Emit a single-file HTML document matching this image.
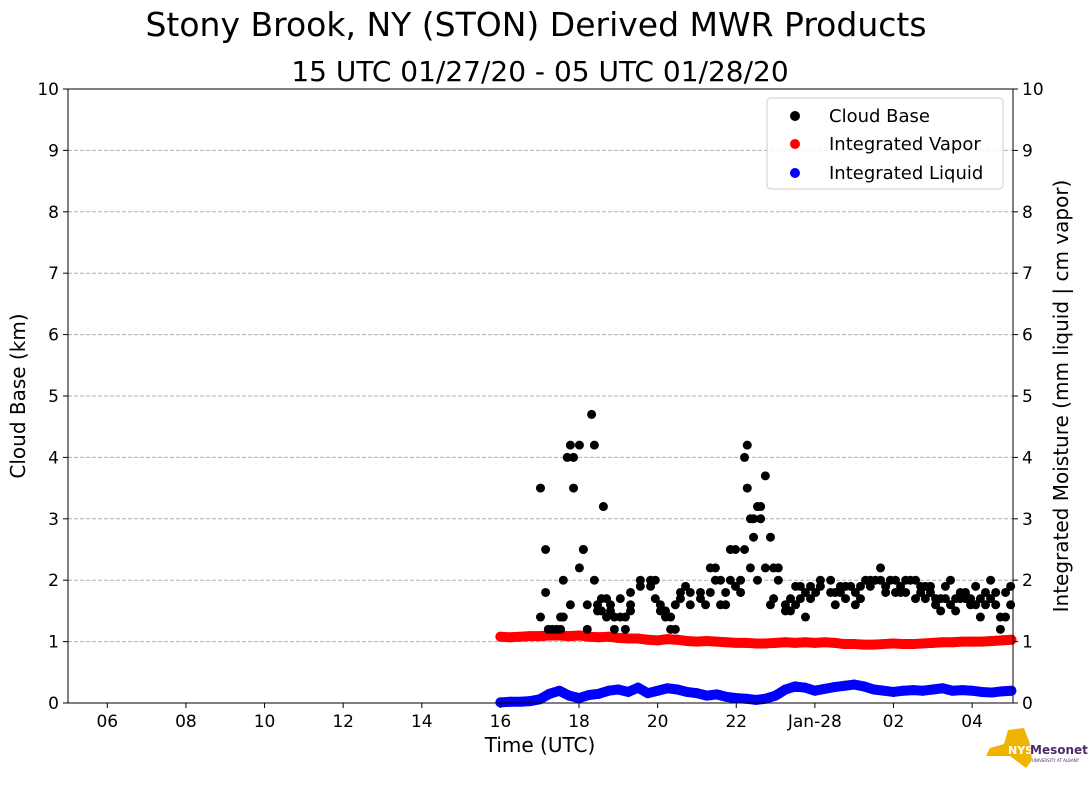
<!DOCTYPE html>
<html><head><meta charset="utf-8"><style>
body{margin:0;background:#fff;width:1089px;height:804px;overflow:hidden;font-family:"Liberation Sans","DejaVu Sans",sans-serif}
svg text{font-family:"DejaVu Sans","Liberation Sans",sans-serif}
</style></head><body>
<svg id="chart" width="1089" height="804" xmlns="http://www.w3.org/2000/svg">
<text x="536" y="36" font-size="33" text-anchor="middle" fill="#000">Stony Brook, NY (STON) Derived MWR Products</text>
<text x="540" y="81" font-size="28" text-anchor="middle" fill="#000">15 UTC 01/27/20 - 05 UTC 01/28/20</text>
<g id="grid"></g>
<g id="marks"></g>
<rect x="68" y="89" width="945" height="614" fill="none" stroke="#000" stroke-width="1"/>
<g id="axes"></g>
<text x="540" y="752" font-size="20" text-anchor="middle">Time (UTC)</text>
<text transform="translate(25,396) rotate(-90)" font-size="20" text-anchor="middle">Cloud Base (km)</text>
<text transform="translate(1068,396) rotate(-90)" font-size="20" text-anchor="middle">Integrated Moisture (mm liquid | cm vapor)</text>
<g>
<rect x="767" y="98" width="236" height="91" rx="4" fill="#fff" fill-opacity="0.85" stroke="#ccc"/>
<circle cx="795" cy="116" r="5" fill="#000"/><text x="829" y="122" font-size="18">Cloud Base</text>
<circle cx="795" cy="144" r="5" fill="#f00"/><text x="829" y="150" font-size="18">Integrated Vapor</text>
<circle cx="795" cy="173" r="5" fill="#00f"/><text x="829" y="179" font-size="18">Integrated Liquid</text>
</g>
<g>
<path d="M1008 730 L1024 728 L1030 744 L1032 760 L1026 768 L1018 762 L1010 756 L986 756 L990 748 L1004 744 Z" fill="#f0b400"/>
<text x="1008" y="754" font-size="11" font-weight="bold" fill="#fff">NYS</text>
<text x="1030" y="754" font-size="12" font-weight="bold" fill="#4b2a6b">Mesonet</text>
<text x="1032" y="762" font-size="4" fill="#4b2a6b">UNIVERSITY AT ALBANY</text>
</g>
</svg>
<script>
const xTickLabels=["06","08","10","12","14","16","18","20","22","Jan-28","02","04"];
const xTickHours=[6,8,10,12,14,16,18,20,22,24,26,28];
const yTicks=[0,1,2,3,4,5,6,7,8,9,10];
const cbTimes=[17.02,17.15,17.22,17.32,17.43,17.53,17.60,17.70,17.78,17.86,18.01,18.11,18.21,18.32,18.39,18.47,18.57,18.62,18.70,18.80,18.90,19.05,19.18,19.31,19.56,19.82,19.94,20.07,20.20,20.33,20.45,20.58,20.71,20.83,21.09,21.22,21.34,21.47,21.60,21.73,21.85,21.98,22.11,22.21,22.28,22.36,22.44,22.54,22.62,22.74,22.87,22.95,23.07,23.25,23.38,23.51,23.63,23.76,23.89,24.02,24.14,24.40,24.52,24.65,24.78,24.91,25.03,25.16,25.29,25.41,25.54,25.67,25.80,25.92,26.05,26.18,26.31,26.43,26.56,26.69,26.81,26.94,27.07,27.20,27.32,27.45,27.58,27.70,27.83,27.96,28.09,28.21,28.34,28.47,28.60,28.72,28.85,28.98];
const cbValues=[[1.4,3.5],[1.8,2.5],[1.2],[1.2],[1.2],[1.2,1.4],[2.0,1.4],[4.0],[4.2,1.6],[4.0,3.5],[4.2,2.2],[2.5,2.5],[1.2,1.6],[4.7],[4.2,2.0],[1.5,1.6],[1.7,1.5],[3.2],[1.4,1.7],[1.6,1.5],[1.2,1.4],[1.7,1.4],[1.2,1.4],[1.6,1.5,1.8],[1.9,2.0],[2.0,1.9],[1.7,2.0],[1.5,1.6],[1.4,1.5],[1.2,1.4],[1.2,1.6],[1.7,1.8],[1.9],[1.6,1.8],[1.7,1.8],[1.6],[2.2,1.8],[2.0,2.2],[1.6,2.0],[1.8,1.6],[2.5,2.0],[2.5,1.9],[1.8,2.0],[4.0,2.5],[4.2,3.5],[3.0,2.2],[2.7,3.0],[3.2,2.0],[3.0,3.2],[2.2,3.7],[2.7,1.6],[2.2,1.7],[2.2,2.0],[1.6,1.5],[1.7,1.5],[1.9,1.6],[1.7,1.9],[1.4,1.8],[1.7,1.9],[1.8],[2.0,1.9],[2.0,1.8],[1.6,1.8],[1.9,1.8],[1.9,1.7],[1.9],[1.6,1.8],[1.7,1.9],[2.0],[2.0,1.9],[2.0],[2.2,2.0],[1.9,1.8],[2.0],[1.8,2.0],[1.9,1.8],[2.0,1.8],[2.0],[1.7,2.0],[1.8,1.9],[1.7,1.9],[1.9,1.8],[1.7,1.6],[1.5,1.7],[1.7,1.9],[2.0,1.6],[1.5,1.7],[1.8,1.7],[1.7,1.8],[1.7,1.6],[1.6,1.9],[1.7,1.4],[1.6,1.8],[2.0,1.7],[1.8,1.6],[1.4,1.2],[1.4,1.8],[1.9,1.6]];
const moistStart=16.0;
const moistStep=0.25;
const vaporValues=[1.08,1.07,1.08,1.09,1.09,1.10,1.10,1.09,1.10,1.08,1.07,1.08,1.06,1.05,1.05,1.03,1.02,1.04,1.03,1.01,1.00,1.01,1.00,0.99,0.98,0.98,0.97,0.97,0.98,0.99,0.98,0.99,0.98,0.99,0.98,0.96,0.96,0.95,0.95,0.96,0.97,0.96,0.96,0.97,0.98,0.99,0.99,1.00,1.00,1.00,1.01,1.02,1.03];
const liquidValues=[0.01,0.02,0.02,0.03,0.06,0.15,0.20,0.12,0.08,0.13,0.15,0.20,0.22,0.18,0.25,0.16,0.20,0.24,0.22,0.18,0.16,0.12,0.14,0.10,0.08,0.07,0.05,0.07,0.12,0.22,0.27,0.25,0.20,0.23,0.26,0.28,0.30,0.27,0.22,0.20,0.18,0.20,0.21,0.20,0.22,0.24,0.20,0.21,0.20,0.18,0.17,0.19,0.20];

const NS="http://www.w3.org/2000/svg";
const X0=68,X1=1013,Y0=703,Y1=89,H0=5,H1=29.04;
function xs(h){return X0+(h-H0)*(X1-X0)/(H1-H0);}
function ys(v){return Y0-v*(Y0-Y1)/10;}
function mk(tag,attrs,parent){const e=document.createElementNS(NS,tag);for(const k in attrs)e.setAttribute(k,attrs[k]);parent.appendChild(e);return e;}
const grid=document.getElementById('grid'),axes=document.getElementById('axes'),marks=document.getElementById('marks');
yTicks.forEach(v=>{
  const y=ys(v);
  if(v>0&&v<10){const g=mk('line',{x1:X0,x2:X1,y1:y,y2:y,stroke:'#b0b0b0','stroke-dasharray':'4,2'},grid);
  
  }
  mk('line',{x1:X0-5,x2:X0,y1:y,y2:y,stroke:'#000'},axes);
  mk('line',{x1:X1,x2:X1+5,y1:y,y2:y,stroke:'#000'},axes);
  const tl=mk('text',{x:X0-9,y:y+6,'font-size':17,'text-anchor':'end'},axes);tl.textContent=v;
  
  
  const tr=mk('text',{x:X1+9,y:y+6,'font-size':17},axes);tr.textContent=v;
  
  
});
xTickHours.forEach((h,i)=>{
  const x=xs(h);
  mk('line',{x1:x,x2:x,y1:Y0,y2:Y0+5,stroke:'#000'},axes);
  const t=mk('text',{x:x,y:Y0+24,'font-size':17,'text-anchor':'middle'},axes);t.textContent=xTickLabels[i];
  
  
});
function band(times,vals,color,name){
  const pts=vals.map((v,i)=>xs(times[i])+','+ys(v)).join(' ');
  const p=mk('polyline',{points:pts,fill:'none',stroke:color,'stroke-width':10,'stroke-linecap':'round','stroke-linejoin':'round'},marks);
  
  
  vals.forEach((v,i)=>{
    const c=mk('circle',{cx:xs(times[i]),cy:ys(v),r:5,fill:color},marks);
    
    
  });
}
const mt=vaporValues.map((_,i)=>moistStart+i*moistStep);
band(mt,vaporValues,'#f00','vapor');
band(mt,liquidValues,'#00f','liquid');
cbTimes.forEach((t,i)=>{cbValues[i].forEach(v=>{
  const c=mk('circle',{cx:xs(t),cy:ys(v),r:4.5,fill:'#000'},marks);
  
  
});});
</script>
</body></html>
